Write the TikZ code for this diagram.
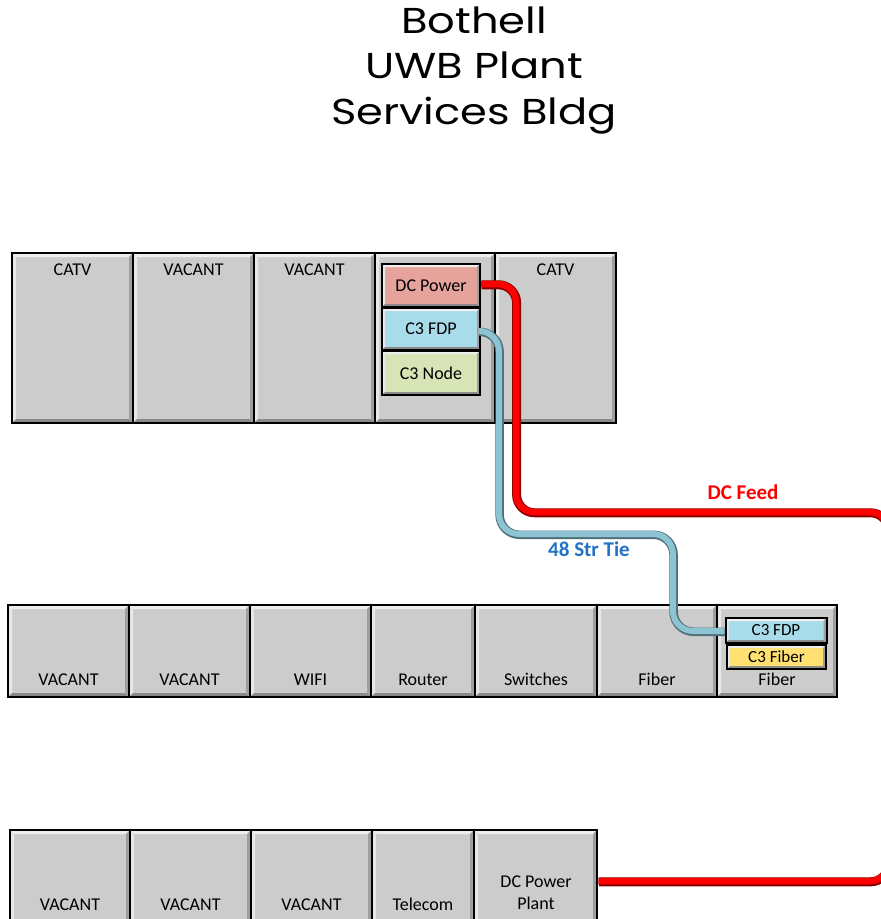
\documentclass[tikz,border=0pt]{standalone}
\usepackage{fontspec}
\setmainfont{Carlito}
\newfontfamily\titlefont[FakeStretch=1.2]{Poppins}
\definecolor{cellgray}{HTML}{CCCCCC}
\definecolor{bevlight}{HTML}{EEEEEE}
\definecolor{bevdark}{HTML}{8A8A8A}
\definecolor{dcpink}{HTML}{E6A39C}
\definecolor{fdpblue}{HTML}{A9DCEA}
\definecolor{nodegreen}{HTML}{D7E4B5}
\definecolor{fibergold}{HTML}{FFE070}
\definecolor{cablered}{HTML}{FF0000}
\definecolor{cabledarkred}{HTML}{8A0000}
\definecolor{cableblue}{HTML}{8CC4D4}
\definecolor{cabledarkblue}{HTML}{4F6F78}
\definecolor{tieblue}{HTML}{2173C4}
\tikzset{
  bevel/.style={path picture={
    \fill[bevlight] (path picture bounding box.north west) -- (path picture bounding box.north east)
      -- ([xshift=-#1,yshift=-#1]path picture bounding box.north east) -- ([xshift=#1,yshift=-#1]path picture bounding box.north west) -- cycle;
    \fill[bevlight!80!cellgray] (path picture bounding box.north west) -- (path picture bounding box.south west)
      -- ([xshift=#1,yshift=#1]path picture bounding box.south west) -- ([xshift=#1,yshift=-#1]path picture bounding box.north west) -- cycle;
    \fill[bevdark] (path picture bounding box.south west) -- (path picture bounding box.south east)
      -- ([xshift=-#1,yshift=#1]path picture bounding box.south east) -- ([xshift=#1,yshift=#1]path picture bounding box.south west) -- cycle;
    \fill[bevdark!70!cellgray] (path picture bounding box.north east) -- (path picture bounding box.south east)
      -- ([xshift=-#1,yshift=#1]path picture bounding box.south east) -- ([xshift=-#1,yshift=-#1]path picture bounding box.north east) -- cycle;
  }},
  cellbox/.style={draw=black, line width=2.8pt, fill=cellgray, inner sep=0pt, bevel=4pt},
  innerbox/.style={draw=black, line width=2pt, inner sep=0pt, bevel=3pt, font=\fontsize{18}{20}\selectfont},
  toplab/.style={anchor=north, yshift=-9pt, font=\fontsize{18}{20}\selectfont},
  botlab/.style={anchor=base, yshift=12.5pt, font=\fontsize{18}{20}\selectfont},
  redcable/.style={line width=6.5pt, draw=cablered, rounded corners=18pt,
     preaction={draw=cabledarkred, line width=9pt, transform canvas={yshift=-0.8pt,xshift=0.6pt}}},
  bluecable/.style={line width=6pt, draw=cableblue, rounded corners=20pt,
     preaction={draw=cabledarkblue, line width=8.5pt, transform canvas={yshift=-0.8pt,xshift=0.6pt}}},
}
\newcommand\cellnode[6]{%
  \node[cellbox, minimum width={#4-#2}, minimum height={#5-#3}] (#1) at ({(#2+#4)/2},{(#3+#5)/2}) {};}
\begin{document}
\begin{tikzpicture}[x=1pt,y=-1pt]
\clip (0,0) rectangle (881,919);
\fill[white] (0,0) rectangle (881,919);
% title
\node[font=\titlefont\fontsize{36}{45.5}\selectfont, align=center, anchor=north] (title) at (474,3)
  {Bothell\\UWB Plant\\Services Bldg};
% row 1
\cellnode{a1}{12}{253}{133}{423}{}
\cellnode{a2}{133}{253}{254}{423}{}
\cellnode{a3}{254}{253}{375}{423}{}
\cellnode{a4}{375}{253}{495}{423}{}
\cellnode{a5}{495}{253}{616}{423}{}
\node[toplab] (a1t) at (a1.north) {CATV};
\node[toplab] (a2t) at (a2.north) {VACANT};
\node[toplab] (a3t) at (a3.north) {VACANT};
\node[toplab] (a5t) at (a5.north) {CATV};
\node[innerbox, fill=dcpink, minimum width=98, minimum height=43] (dcp) at (431,285.5) {DC Power};
\node[innerbox, fill=fdpblue, minimum width=98, minimum height=42] (fdp1) at (431,329) {C3 FDP};
\node[innerbox, fill=nodegreen, minimum width=98, minimum height=44] (c3n) at (431,373) {C3 Node};
% row 2
\cellnode{b1}{8}{605}{129}{697}{}
\cellnode{b2}{129}{605}{250}{697}{}
\cellnode{b3}{250}{605}{371}{697}{}
\cellnode{b4}{371}{605}{475}{697}{}
\cellnode{b5}{475}{605}{597}{697}{}
\cellnode{b6}{597}{605}{717}{697}{}
\cellnode{b7}{717}{605}{837}{697}{}
\node[botlab] (b1t) at (b1.south) {VACANT};
\node[botlab] (b2t) at (b2.south) {VACANT};
\node[botlab] (b3t) at (b3.south) {WIFI};
\node[botlab] (b4t) at (b4.south) {Router};
\node[botlab] (b5t) at (b5.south) {Switches};
\node[botlab] (b6t) at (b6.south) {Fiber};
\node[botlab] (b7t) at (b7.south) {Fiber};
\node[innerbox, fill=fdpblue, minimum width=101, minimum height=25, font=\fontsize{17}{19}\selectfont] (fdp2) at (776,630.5) {C3 FDP};
\node[innerbox, fill=fibergold, minimum width=99, minimum height=24, font=\fontsize{17}{19}\selectfont] (fib) at (776.5,657) {C3 Fiber};
% row 3
\cellnode{c1}{10}{830}{130}{924}{}
\cellnode{c2}{130}{830}{251}{924}{}
\cellnode{c3}{251}{830}{372}{924}{}
\cellnode{c4}{372}{830}{474}{924}{}
\cellnode{c5}{474}{830}{597}{924}{}
\node[botlab, yshift=2pt] (c1t) at (c1.south) {VACANT};
\node[botlab, yshift=2pt] (c2t) at (c2.south) {VACANT};
\node[botlab, yshift=2pt] (c3t) at (c3.south) {VACANT};
\node[botlab, yshift=2pt] (c4t) at (c4.south) {Telecom};
\node[font=\fontsize{18}{22}\selectfont, align=center] (c5t) at (536,893) {DC Power\\Plant};
% cables
\coordinate (r1) at (516,284);
\coordinate (r2) at (516,512);
\coordinate (r3) at (888,512);
\coordinate (r4) at (888,881);
\draw[redcable] (dcp.east |- r1) -- (r1) -- (r2) -- (r3) -- (r4) -- (c5.east |- r4);
\coordinate (b1c) at (499,331);
\coordinate (b2c) at (499,534);
\coordinate (b3c) at (673,534);
\coordinate (b4c) at (673,631);
\draw[bluecable] (fdp1.east |- b1c) -- (b1c) -- (b2c) -- (b3c) -- (b4c) -- (fdp2.west |- b4c);
\node[text=cablered, font=\bfseries\fontsize{21}{23}\selectfont] (dcfeed) at (743,492) {DC Feed};
\node[text=tieblue, font=\bfseries\fontsize{21}{23}\selectfont] (tie) at (589,549) {48 Str Tie};
\end{tikzpicture}
\end{document}
